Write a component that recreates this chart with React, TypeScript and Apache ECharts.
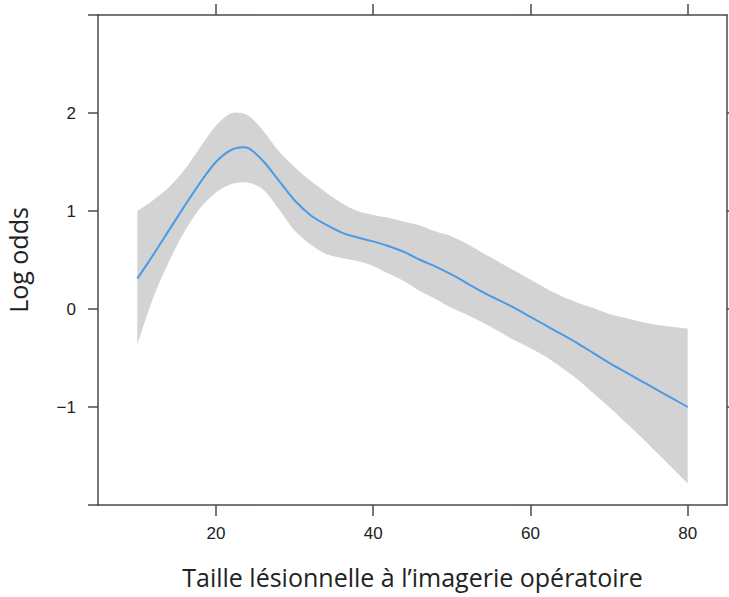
import React, { useEffect, useRef } from "react";
import * as echarts from "echarts";

const xValues = [10, 12, 14, 16, 18, 20, 22, 24, 26, 28, 30, 32, 34, 36, 38, 40, 42, 44, 46, 48, 50, 52, 54, 56, 58, 60, 62, 64, 66, 68, 70, 72, 74, 76, 78, 80];
const fitValues = [0.31, 0.55, 0.8, 1.05, 1.29, 1.5, 1.625, 1.645, 1.51, 1.31, 1.11, 0.96, 0.86, 0.78, 0.73, 0.69, 0.64, 0.58, 0.5, 0.43, 0.35, 0.26, 0.17, 0.09, 0.01, -0.08, -0.17, -0.26, -0.35, -0.45, -0.55, -0.64, -0.73, -0.82, -0.91, -1.0];
const upperValues = [1.0, 1.11, 1.24, 1.42, 1.65, 1.87, 2.0, 1.98, 1.82, 1.61, 1.45, 1.31, 1.19, 1.08, 1.0, 0.96, 0.93, 0.89, 0.85, 0.79, 0.74, 0.66, 0.57, 0.48, 0.39, 0.3, 0.21, 0.13, 0.065, 0.01, -0.05, -0.09, -0.13, -0.16, -0.18, -0.2];
const lowerValues = [-0.36, 0.11, 0.48, 0.79, 1.03, 1.19, 1.275, 1.29, 1.22, 1.02, 0.8, 0.66, 0.56, 0.52, 0.49, 0.44, 0.36, 0.28, 0.18, 0.1, 0.01, -0.06, -0.14, -0.23, -0.32, -0.4, -0.49, -0.6, -0.72, -0.86, -1.0, -1.15, -1.3, -1.46, -1.62, -1.78];

const xTickValues = [20, 40, 60, 80];
const yTickValues = [-2, -1, 0, 1, 2, 3];
const yLabelValues = [-1, 0, 1, 2];

const xTitle = "Taille lésionnelle à l’imagerie opératoire";
const yTitle = "Log odds";

const frameColor = "#4a4a4a";
const bandColor = "#d3d3d3";
const fitColor = "#4a9be6";
const labelFont = "'Liberation Sans', Arial, sans-serif";
const titleFont = "'Open Sans', sans-serif";
const minusFormatter = (v: number) => String(v).replace("-", "\u2212");

export default function App() {
  const ref = useRef<HTMLDivElement>(null);

  useEffect(() => {
    if (!ref.current) return;
    const chart = echarts.init(ref.current, null, { renderer: "svg" });
    const axisLineStyle = { color: frameColor, width: 1.5 };
    const option: any = {
      animation: false,
      backgroundColor: "#ffffff",
      grid: {
        left: 98,
        right: 2,
        top: 15,
        bottom: 92,
        containLabel: false,
        outerBoundsMode: "none",
      },
      xAxis: [
        {
          type: "value",
          position: "bottom",
          min: 5,
          max: 85,
          axisLine: { show: true, onZero: false, lineStyle: axisLineStyle },
          axisTick: { show: true, length: 11, customValues: xTickValues, lineStyle: axisLineStyle },
          axisLabel: {
            show: true,
            customValues: xTickValues,
            fontSize: 17,
            color: "#222",
            fontFamily: labelFont,
            margin: 20,
          },
          splitLine: { show: false },
          name: xTitle,
          nameLocation: "middle",
          nameGap: 59,
          nameTextStyle: { fontSize: 25, color: "#222", fontFamily: titleFont },
        },
        {
          type: "value",
          position: "top",
          min: 5,
          max: 85,
          axisLine: { show: true, onZero: false, lineStyle: axisLineStyle },
          axisTick: { show: true, length: 11, customValues: xTickValues, lineStyle: axisLineStyle },
          axisLabel: { show: false },
          splitLine: { show: false },
        },
      ],
      yAxis: [
        {
          type: "value",
          position: "left",
          min: -2,
          max: 3,
          interval: 1,
          axisLine: { show: true, onZero: false, lineStyle: axisLineStyle },
          axisTick: { show: true, length: 10, customValues: yTickValues, lineStyle: axisLineStyle },
          axisLabel: {
            show: true,
            customValues: yLabelValues,
            formatter: minusFormatter,
            fontSize: 17,
            color: "#222",
            fontFamily: labelFont,
            margin: 22,
          },
          splitLine: { show: false },
          name: yTitle,
          nameLocation: "middle",
          nameGap: 68,
          nameTextStyle: { fontSize: 25, color: "#222", fontFamily: titleFont },
        },
        {
          type: "value",
          position: "right",
          min: -2,
          max: 3,
          interval: 1,
          axisLine: { show: true, onZero: false, lineStyle: axisLineStyle },
          axisTick: { show: true, length: 4, customValues: yLabelValues, lineStyle: axisLineStyle },
          axisLabel: { show: false },
          splitLine: { show: false },
        },
      ],
      series: [
        {
          type: "custom",
          name: "band",
          xAxisIndex: 0,
          yAxisIndex: 0,
          data: xValues.map((x, i) => [x, lowerValues[i], upperValues[i]]),
          encode: { x: 0, y: [1, 2] },
          silent: true,
          z: 1,
          renderItem: (params: any, api: any) => {
            if (params.dataIndex !== 0) return null;
            const n = xValues.length;
            const pts: number[][] = [];
            for (let i = 0; i < n; i++) {
              const p = api.coord([xValues[i], upperValues[i]]);
              pts.push(p);
              if (i === 0 || i === n - 1) pts.push(p.slice());
            }
            for (let i = n - 1; i >= 0; i--) {
              const p = api.coord([xValues[i], lowerValues[i]]);
              pts.push(p);
              if (i === 0 || i === n - 1) pts.push(p.slice());
            }
            return {
              type: "polygon",
              shape: { points: pts, smooth: 0.3 },
              style: { fill: bandColor, stroke: "none" },
            };
          },
        },
        {
          type: "custom",
          name: "fit",
          xAxisIndex: 0,
          yAxisIndex: 0,
          data: xValues.map((x, i) => [x, fitValues[i]]),
          encode: { x: 0, y: 1 },
          silent: true,
          z: 3,
          renderItem: (params: any, api: any) => {
            if (params.dataIndex !== 0) return null;
            const pts = xValues.map((x, i) => api.coord([x, fitValues[i]]));
            return {
              type: "polyline",
              shape: { points: pts, smooth: 0.3 },
              style: { stroke: fitColor, lineWidth: 2, fill: "none" },
            };
          },
        },
      ],
    };
    chart.setOption(option);
    return () => {
      chart.dispose();
    };
  }, []);

  return (
    <div
      ref={ref}
      style={{ position: "fixed", left: 0, top: 0, width: 729, height: 597, background: "#fff" }}
    />
  );
}
